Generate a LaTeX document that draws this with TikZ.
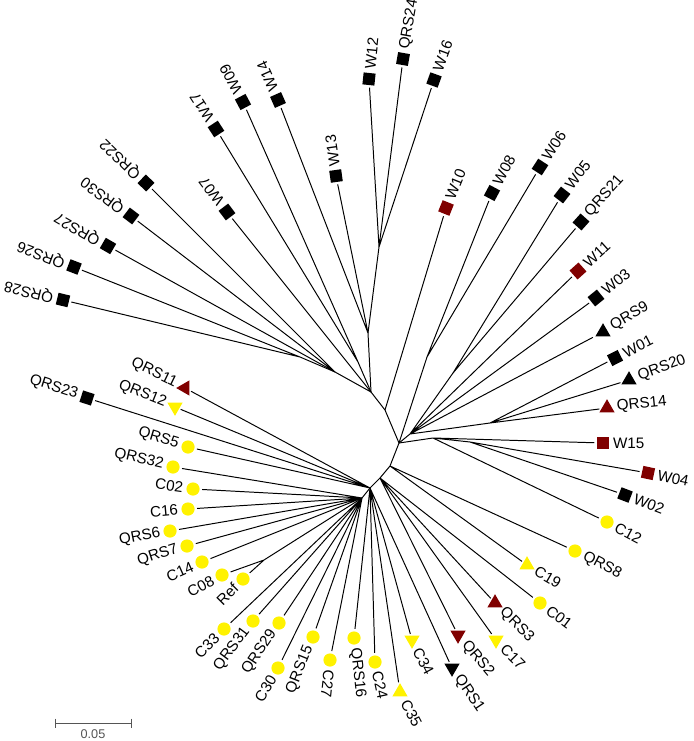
\documentclass[tikz,border=0pt]{standalone}
\usepackage{fontspec}
\setmainfont{Liberation Sans}
\usepackage{tikz}
\usetikzlibrary{shapes.geometric}
\definecolor{treeRed}{HTML}{800000}
\definecolor{treeYellow}{HTML}{FFF200}
\definecolor{barGray}{HTML}{555555}
\tikzset{
  branch/.style={line width=0.7pt, draw=black},
  sqk/.style={rectangle, fill=black, minimum size=3mm, inner sep=0pt, outer sep=1.8pt},
  sqr/.style={sqk, fill=treeRed},
  dot/.style={circle, fill=treeYellow, minimum size=3.3mm, inner sep=0pt, outer sep=1.8pt},
  tri/.style={regular polygon, regular polygon sides=3, minimum size=4.4mm, inner sep=0pt, outer sep=1.2pt},
  trik/.style={tri, fill=black},
  trir/.style={tri, fill=treeRed},
  triy/.style={tri, fill=treeYellow},
  tipout/.style={font=\fontsize{10.8}{12}\selectfont, inner sep=0pt, anchor=west},
  tipin/.style={font=\fontsize{10.8}{12}\selectfont, inner sep=0pt, anchor=east},
  scalebar/.style={line width=0.7pt, draw=barGray}
}
\begin{document}
\begin{tikzpicture}[x=0.025cm,y=-0.025cm]
  \useasboundingbox (0,0) rectangle (693,741);
  \coordinate (r1) at (371,392);
  \coordinate (r2) at (385,410);
  \coordinate (r3) at (399,443);
  \coordinate (r4) at (390,466);
  \coordinate (r5) at (380,478);
  \coordinate (r6) at (370,488);
  \coordinate (r7) at (362,498);
  \coordinate (k1) at (379,247);
  \coordinate (k2) at (368,333);
  \coordinate (m1) at (358,362);
  \coordinate (l1) at (300,357);
  \coordinate (l2) at (335,372);
  \coordinate (j1) at (427,357);
  \coordinate (j2) at (453,373);
  \coordinate (u1) at (410,434);
  \coordinate (q1) at (490,423);
  \coordinate (a1) at (433,438);
  \coordinate (b1) at (470,442);
  \coordinate (cr) at (264,560);

  \node[sqk, rotate=166] (QRS28) at (63,300) {};
  \node[sqk, rotate=159] (QRS26) at (74,267) {};
  \node[sqk, rotate=150] (QRS27) at (108,246) {};
  \node[sqk, rotate=143] (QRS30) at (131,216) {};
  \node[sqk, rotate=136] (QRS22) at (146,183) {};
  \node[sqk, rotate=127] (W07) at (227,212) {};
  \node[sqk, rotate=123] (W17) at (216,129) {};
  \node[sqk, rotate=118] (W09) at (243,102) {};
  \node[sqk, rotate=114] (W14) at (278,100) {};
  \node[sqk, rotate=98] (W13) at (336,176) {};
  \node[sqk, rotate=84] (W12) at (369,79) {};
  \node[sqk, rotate=80] (QRS24) at (403,59) {};
  \node[sqk, rotate=70] (W16) at (434,80) {};
  \node[sqr, rotate=68] (W10) at (446,208) {};
  \node[sqk, rotate=62] (W08) at (492,193) {};
  \node[sqk, rotate=57] (W06) at (540,167) {};
  \node[sqk, rotate=52] (W05) at (562,195) {};
  \node[sqk, rotate=48] (QRS21) at (581,222) {};
  \node[sqr, rotate=42] (W11) at (578,271) {};
  \node[sqk, rotate=39] (W03) at (596,298) {};
  \node[trik] (QRS9) at (603,332) {};
  \node[sqk, rotate=27] (W01) at (615,358) {};
  \node[trik] (QRS20) at (629,380) {};
  \node[trir] (QRS14) at (607,408) {};
  \node[sqr] (W15) at (603,443) {};
  \node[sqr, rotate=-12] (W04) at (648,473) {};
  \node[sqk, rotate=-21] (W02) at (625,495) {};
  \node[dot] (C12) at (607,522) {};
  \node[dot] (QRS8) at (575,551) {};
  \node[triy] (C19) at (527,565) {};
  \node[dot] (C01) at (540,603) {};
  \node[trir] (QRS3) at (495,603) {};
  \node[triy, rotate=180] (C17) at (496,640) {};
  \node[trir, rotate=180] (QRS2) at (458,635) {};
  \node[trik, rotate=180] (QRS1) at (452,668) {};
  \node[triy, rotate=180] (C34) at (412,640) {};
  \node[triy] (C35) at (400,692) {};
  \node[dot] (C24) at (375,662) {};
  \node[dot] (QRS16) at (354,638) {};
  \node[dot] (C27) at (330,660) {};
  \node[dot] (QRS15) at (313,637) {};
  \node[dot] (C30) at (278,668) {};
  \node[dot] (QRS29) at (279,623) {};
  \node[dot] (QRS31) at (253,621) {};
  \node[dot] (C33) at (224,629) {};
  \node[dot] (Ref) at (243,579) {};
  \node[dot] (C08) at (222,575) {};
  \node[dot] (C14) at (202,562) {};
  \node[dot] (QRS7) at (187,546) {};
  \node[dot] (QRS6) at (170,531) {};
  \node[dot] (C16) at (188,509) {};
  \node[dot] (C02) at (193,489) {};
  \node[dot] (QRS32) at (173,467) {};
  \node[dot] (QRS5) at (188,447) {};
  \node[sqk, rotate=162] (QRS23) at (87,398) {};
  \node[triy, rotate=180] (QRS12) at (175,407) {};
  \node[trir, rotate=210] (QRS11) at (185,388) {};

  \node[tipout, rotate=166] (tQRS28) at ([shift={(166:7pt)}]QRS28.center) {QRS28};
  \node[tipout, rotate=159] (tQRS26) at ([shift={(159:7pt)}]QRS26.center) {QRS26};
  \node[tipout, rotate=150] (tQRS27) at ([shift={(150:7pt)}]QRS27.center) {QRS27};
  \node[tipout, rotate=143] (tQRS30) at ([shift={(143:7pt)}]QRS30.center) {QRS30};
  \node[tipout, rotate=136] (tQRS22) at ([shift={(136:7pt)}]QRS22.center) {QRS22};
  \node[tipout, rotate=127] (tW07) at ([shift={(127:7pt)}]W07.center) {W07};
  \node[tipout, rotate=123] (tW17) at ([shift={(123:7pt)}]W17.center) {W17};
  \node[tipout, rotate=118] (tW09) at ([shift={(118:7pt)}]W09.center) {W09};
  \node[tipout, rotate=114] (tW14) at ([shift={(114:7pt)}]W14.center) {W14};
  \node[tipout, rotate=98] (tW13) at ([shift={(98:7pt)}]W13.center) {W13};
  \node[tipout, rotate=84] (tW12) at ([shift={(84:7pt)}]W12.center) {W12};
  \node[tipout, rotate=80] (tQRS24) at ([shift={(80:7pt)}]QRS24.center) {QRS24};
  \node[tipout, rotate=70] (tW16) at ([shift={(70:7pt)}]W16.center) {W16};
  \node[tipout, rotate=68] (tW10) at ([shift={(68:7pt)}]W10.center) {W10};
  \node[tipout, rotate=62] (tW08) at ([shift={(62:7pt)}]W08.center) {W08};
  \node[tipout, rotate=57] (tW06) at ([shift={(57:7pt)}]W06.center) {W06};
  \node[tipout, rotate=52] (tW05) at ([shift={(52:7pt)}]W05.center) {W05};
  \node[tipout, rotate=48] (tQRS21) at ([shift={(48:7pt)}]QRS21.center) {QRS21};
  \node[tipout, rotate=42] (tW11) at ([shift={(42:7pt)}]W11.center) {W11};
  \node[tipout, rotate=39] (tW03) at ([shift={(39:7pt)}]W03.center) {W03};
  \node[tipout, rotate=30] (tQRS9) at ([shift={(30:7pt)}]QRS9.center) {QRS9};
  \node[tipout, rotate=27] (tW01) at ([shift={(27:7pt)}]W01.center) {W01};
  \node[tipout, rotate=20] (tQRS20) at ([shift={(20:7pt)}]QRS20.center) {QRS20};
  \node[tipout, rotate=6] (tQRS14) at ([shift={(6:7pt)}]QRS14.center) {QRS14};
  \node[tipout] (tW15) at ([shift={(0:7pt)}]W15.center) {W15};
  \node[tipout, rotate=-12] (tW04) at ([shift={(-12:7pt)}]W04.center) {W04};
  \node[tipout, rotate=-21] (tW02) at ([shift={(-21:7pt)}]W02.center) {W02};
  \node[tipout, rotate=-28] (tC12) at ([shift={(-28:7pt)}]C12.center) {C12};
  \node[tipout, rotate=-28] (tQRS8) at ([shift={(-28:7pt)}]QRS8.center) {QRS8};
  \node[tipout, rotate=-30] (tC19) at ([shift={(-30:7pt)}]C19.center) {C19};
  \node[tipout, rotate=-37] (tC01) at ([shift={(-37:7pt)}]C01.center) {C01};
  \node[tipout, rotate=-45] (tQRS3) at ([shift={(-45:7pt)}]QRS3.center) {QRS3};
  \node[tipout, rotate=-45] (tC17) at ([shift={(-45:7pt)}]C17.center) {C17};
  \node[tipout, rotate=-50] (tQRS2) at ([shift={(-50:7pt)}]QRS2.center) {QRS2};
  \node[tipout, rotate=-56] (tQRS1) at ([shift={(-56:7pt)}]QRS1.center) {QRS1};
  \node[tipout, rotate=-62] (tC34) at ([shift={(-62:7pt)}]C34.center) {C34};
  \node[tipout, rotate=-62] (tC35) at ([shift={(-62:7pt)}]C35.center) {C35};
  \node[tipout, rotate=-78] (tC24) at ([shift={(-78:7pt)}]C24.center) {C24};
  \node[tipout, rotate=-84] (tQRS16) at ([shift={(-84:7pt)}]QRS16.center) {QRS16};
  \node[tipout, rotate=-96] (tC27) at ([shift={(-96:7pt)}]C27.center) {C27};
  \node[tipin, rotate=68] (tQRS15) at ([shift={(-112:7pt)}]QRS15.center) {QRS15};
  \node[tipin, rotate=59] (tC30) at ([shift={(-121:7pt)}]C30.center) {C30};
  \node[tipin, rotate=56] (tQRS29) at ([shift={(-124:7pt)}]QRS29.center) {QRS29};
  \node[tipin, rotate=53] (tQRS31) at ([shift={(-127:7pt)}]QRS31.center) {QRS31};
  \node[tipin, rotate=45] (tC33) at ([shift={(-135:7pt)}]C33.center) {C33};
  \node[tipin, rotate=45] (tRef) at ([shift={(-135:7pt)}]Ref.center) {Ref};
  \node[tipin, rotate=28] (tC08) at ([shift={(-152:7pt)}]C08.center) {C08};
  \node[tipin, rotate=24] (tC14) at ([shift={(-156:7pt)}]C14.center) {C14};
  \node[tipin, rotate=18] (tQRS7) at ([shift={(-162:7pt)}]QRS7.center) {QRS7};
  \node[tipin, rotate=11] (tQRS6) at ([shift={(-169:7pt)}]QRS6.center) {QRS6};
  \node[tipin, rotate=5] (tC16) at ([shift={(-175:7pt)}]C16.center) {C16};
  \node[tipin, rotate=-8] (tC02) at ([shift={(172:7pt)}]C02.center) {C02};
  \node[tipin, rotate=-13] (tQRS32) at ([shift={(167:7pt)}]QRS32.center) {QRS32};
  \node[tipin, rotate=-17] (tQRS5) at ([shift={(163:7pt)}]QRS5.center) {QRS5};
  \node[tipin, rotate=-18] (tQRS23) at ([shift={(162:7pt)}]QRS23.center) {QRS23};
  \node[tipin, rotate=-22] (tQRS12) at ([shift={(158:7pt)}]QRS12.center) {QRS12};
  \node[tipin, rotate=-26] (tQRS11) at ([shift={(154:7pt)}]QRS11.center) {QRS11};

  \draw[branch] (r1) -- (r2) -- (r3) -- (r4) -- (r5) -- (r6) -- (r7);
  \draw[branch] (r1) -- (k2) -- (k1);
  \draw[branch] (k1) -- (W12) (k1) -- (QRS24) (k1) -- (W16);
  \draw[branch] (k2) -- (W14) (k2) -- (W13);
  \draw[branch] (r1) -- (m1) (m1) -- (W17) (m1) -- (W09);
  \draw[branch] (r1) -- (l2) -- (l1);
  \draw[branch] (l1) -- (QRS28) (l1) -- (QRS26);
  \draw[branch] (l2) -- (QRS27) (l2) -- (QRS30) (l2) -- (QRS22);
  \draw[branch] (r1) -- (W07);
  \draw[branch] (r2) -- (W10);
  \draw[branch] (r3) -- (j1) (j1) -- (W08) (j1) -- (W06);
  \draw[branch] (r3) -- (u1) (u1) -- (j2) (u1) -- (W11) (u1) -- (W03) (u1) -- (QRS9) (u1) -- (q1);
  \draw[branch] (j2) -- (W05) (j2) -- (QRS21);
  \draw[branch] (q1) -- (W01) (q1) -- (QRS20) (q1) -- (QRS14);
  \draw[branch] (r3) -- (a1) (a1) -- (W15) (a1) -- (C12) (a1) -- (b1);
  \draw[branch] (b1) -- (W04) (b1) -- (W02);
  \draw[branch] (r4) -- (QRS8) (r4) -- (C19);
  \draw[branch] (r5) -- (C01) (r5) -- (QRS3) (r5) -- (C17) (r5) -- (QRS2);
  \draw[branch] (r6) -- (QRS1) (r6) -- (C34) (r6) -- (C35) (r6) -- (C24) (r6) -- (QRS16);
  \draw[branch] (r6) -- (QRS11) (r6) -- (QRS12) (r6) -- (QRS23) (r6) -- (QRS5);
  \draw[branch] (r7) -- (QRS32) (r7) -- (C02) (r7) -- (C16) (r7) -- (QRS6) (r7) -- (QRS7) (r7) -- (C14);
  \draw[branch] (r7) -- (cr) (cr) -- (C08) (cr) -- (Ref);
  \draw[branch] (r7) -- (C33) (r7) -- (QRS31) (r7) -- (QRS29) (r7) -- (C30) (r7) -- (QRS15) (r7) -- (C27);

  \coordinate (sbL) at (55,723);
  \coordinate (sbR) at (131,723);
  \draw[scalebar] (sbL) -- (sbR);
  \draw[scalebar] ([yshift=3.2pt]sbL) -- ([yshift=-3.2pt]sbL);
  \draw[scalebar] ([yshift=3.2pt]sbR) -- ([yshift=-3.2pt]sbR);
  \node[font=\fontsize{9}{10}\selectfont, text=barGray, inner sep=0pt] (sbT) at (93,734) {0.05};
\end{tikzpicture}
\end{document}
